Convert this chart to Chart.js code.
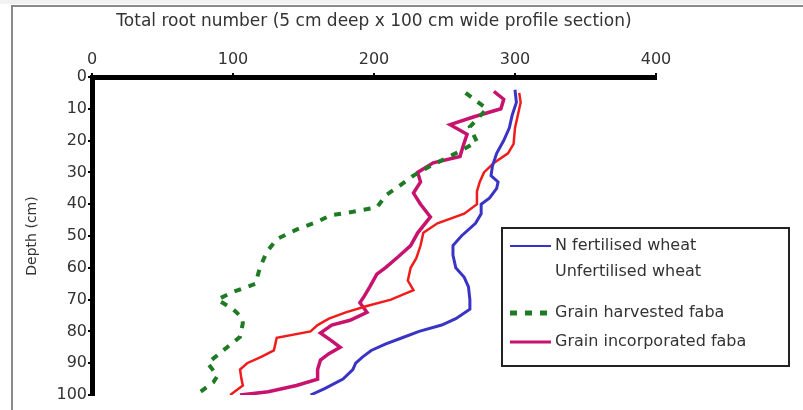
<!DOCTYPE html>
<html>
<head>
<meta charset="utf-8">
<script src="https://cdn.jsdelivr.net/npm/chart.js@4/dist/chart.umd.min.js"></script>
<style>
  html, body { margin: 0; padding: 0; background: #fff; }
  #wrap { width: 803px; height: 410px; position: relative; }
</style>
</head>
<body>
<div id="wrap"><canvas id="roots" width="803" height="410"></canvas></div>
<script>
// depth (cm) and root number
let xTicks = [0, 100, 200, 300, 400];
let yTicks = [0, 10, 20, 30, 40, 50, 60, 70, 80, 90, 100];

let nFertDepth = [4, 8, 12, 16, 20, 24, 28, 31, 33, 35, 38, 40, 43, 46, 50, 53, 56, 60, 63, 66, 70, 73, 76, 78, 80, 82, 84, 86, 88, 90, 92, 95, 98, 100];
let nFertRoots = [300, 301, 298, 296, 292, 287, 284, 283, 288, 287, 282, 276, 276, 272, 262, 256, 256, 258, 264, 267, 268, 268, 258, 248, 232, 220, 208, 198, 192, 187, 185, 178, 165, 155];

let unfertDepth = [5, 8, 12, 16, 21, 24, 27, 30, 33, 36, 40, 43, 46, 49, 53, 57, 60, 64, 67, 70, 72, 74, 76, 78, 80, 82, 84, 86, 88, 90, 92, 95, 97, 100];
let unfertRoots = [303, 304, 302, 300, 299, 295, 285, 278, 275, 273, 273, 264, 245, 235, 233, 230, 226, 224, 228, 212, 195, 180, 168, 160, 155, 131, 130, 129, 120, 110, 105, 106, 107, 98];

let harvDepth = [5, 10, 15.7, 20.4, 24, 28, 31, 34.6, 37, 41, 42.4, 43.5, 45.5, 48, 51, 55, 60, 65, 67.6, 70, 73, 75.5, 77.4, 81.7, 86, 90, 94, 96, 100];
let harvRoots = [265, 280, 268, 273, 258, 240, 228, 217, 209, 202, 185, 169, 160, 145, 131, 124, 119, 116, 100, 89, 100, 106, 107, 105, 93, 82, 89, 86, 74];

let incDepth = [4.5, 7, 10, 12.5, 15, 18, 22, 25, 27, 30, 33, 36.5, 40, 44, 49, 53, 56.6, 60, 62, 66, 69, 71, 74, 76.5, 78, 80.5, 83, 85, 87, 89, 92, 95, 97, 99, 100];
let incRoots = [285, 292, 290, 271, 254, 266, 263, 261, 242, 231, 233, 228, 233, 240, 231, 226, 217, 208, 202, 197, 193, 190, 195, 183, 170, 162, 170, 176, 168, 162, 160, 160, 145, 125, 105];

function pts(roots, depth){
    return roots.map((r, i) => ({x: r, y: depth[i]}));
}

let font = "'DejaVu Sans', sans-serif";

let frame = {
    id: 'frame',
    beforeDraw(chart){
        let c = chart.ctx;
        c.save();
        c.fillStyle = '#f2f2f2';
        c.fillRect(0, 0, 803, 4);
        c.strokeStyle = '#8a8a8a';
        c.lineWidth = 2;
        c.beginPath();
        c.moveTo(12, 410); c.lineTo(12, 6); c.lineTo(803, 6);
        c.stroke();
        c.restore();
    }
};

let boxLegend = {
    id: 'boxLegend',
    afterDraw(chart){
        let c = chart.ctx;
        c.save();
        c.strokeStyle = '#222';
        c.lineWidth = 2;
        c.strokeRect(502, 228, 287, 138);
        let rows = [246, 272, 313, 342];
        chart.data.datasets.forEach((ds, i) => {
            let y = rows[i];
            if (ds.legendSwatch) {
                c.strokeStyle = ds.borderColor;
                c.lineWidth = ds.legendSwatch;
                c.setLineDash(ds.borderDash || []);
                c.beginPath();
                c.moveTo(510, y); c.lineTo(551, y);
                c.stroke();
                c.setLineDash([]);
            }
            c.fillStyle = '#333';
            c.font = '16px ' + font;
            c.textBaseline = 'middle';
            c.fillText(ds.label, 555, y);
        });
        c.restore();
    }
};

new Chart(document.getElementById("roots"), {
    type: 'scatter',
    data: {
      datasets: [{
          label: "N fertilised wheat",
          data: pts(nFertRoots, nFertDepth),
          borderColor: "#3a34c4",
          borderWidth: 3,
          legendSwatch: 2
        }, {
          label: "Unfertilised wheat",
          data: pts(unfertRoots, unfertDepth),
          borderColor: "#f01c1c",
          borderWidth: 2.5,
          legendSwatch: 0
        }, {
          label: "Grain harvested faba",
          data: pts(harvRoots, harvDepth),
          borderColor: "#1f7a24",
          borderWidth: 4,
          borderDash: [7, 8],
          legendSwatch: 5
        }, {
          label: "Grain incorporated faba",
          data: pts(incRoots, incDepth),
          borderColor: "#c8136e",
          borderWidth: 3.5,
          legendSwatch: 3
        }
      ].map(d => Object.assign(d, {showLine: true, pointRadius: 0, fill: false, tension: 0}))
    },
    options: {
      responsive: false,
      animation: false,
      layout: { padding: { left: 24, right: 147, top: 11, bottom: 15 } },
      plugins: {
        legend: { display: false },
        tooltip: { enabled: false }
      },
      scales: {
        x: {
          type: 'linear',
          position: 'top',
          min: 0, max: 400,
          afterBuildTicks: s => { s.ticks = xTicks.map(v => ({value: v})); },
          afterFit: s => { s.height = 66; },
          grid: { drawOnChartArea: false, color: '#000', lineWidth: 2, tickLength: 4 },
          border: { color: '#000', width: 5 },
          ticks: { color: '#333', font: { family: font, size: 16 }, padding: 4 },
          title: { display: true, text: 'Total root number (5 cm deep x 100 cm wide profile section)', color: '#333', font: { family: font, size: 17 }, padding: { top: 0, bottom: 8 } }
        },
        y: {
          type: 'linear',
          reverse: true,
          min: 0, max: 100,
          afterBuildTicks: s => { s.ticks = yTicks.map(v => ({value: v})); },
          afterFit: s => { s.width = 68; },
          grid: { drawOnChartArea: false, color: '#000', lineWidth: 2, tickLength: 4 },
          border: { color: '#000', width: 5 },
          ticks: { color: '#333', font: { family: font, size: 16 }, padding: 1 },
          title: { display: true, text: 'Depth (cm)', color: '#333', font: { family: font, size: 14 }, padding: 0 }
        }
      }
    },
    plugins: [frame, boxLegend]
  });
</script>
</body>
</html>
